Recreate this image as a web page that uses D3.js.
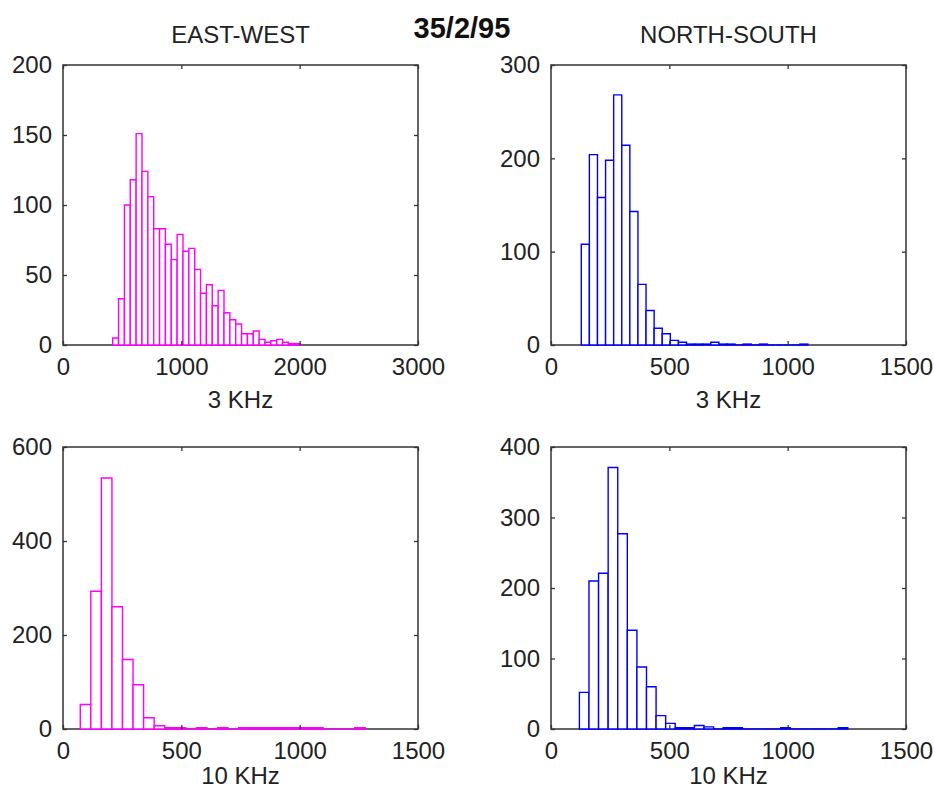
<!DOCTYPE html>
<html>
<head>
<meta charset="utf-8">
<script src="https://cdn.jsdelivr.net/npm/d3@7"></script>
<style>
  body { margin: 0; background: #fff; }
  svg { display: block; }
  text { font-family: "Liberation Sans", Arial, Helvetica, sans-serif; fill: #222; }
</style>
</head>
<body>
<svg id="chart" width="934" height="798"></svg>
<script>
// ---- data -------------------------------------------------------------
const chartTitle = "35/2/95";
const columnTitles = ["EAST-WEST", "NORTH-SOUTH"];
const axisLabels = ["3 KHz", "3 KHz", "10 KHz", "10 KHz"];

// Histogram bins: [first bin edge, bin width]
const ew3kBins = [420, 49.5];
const ns3kBins = [128, 34.2];
const ew10kBins = [73, 44.6];
const ns10kBins = [120, 40.5];

// Counts per bin
const ew3kCounts = [5, 33, 100, 118, 151, 124, 106, 83, 83, 72, 61, 79, 67, 69, 54, 37,
                    43, 28, 39, 23, 18, 15, 8, 8, 10, 4, 2, 3, 4, 2, 1, 1];
const ns3kCounts = [108, 204, 158, 198, 268, 214, 143, 65, 37, 18, 12, 5, 3, 1, 1, 1,
                    3, 1, 1, 0, 1, 0, 1, 0, 0, 0, 0, 1];
const ew10kCounts = [52, 293, 534, 260, 148, 94, 24, 7, 3, 3, 0, 3, 0, 3, 0, 3,
                     3, 3, 3, 3, 3, 3, 3, 0, 0, 0, 3];
const ns10kCounts = [52, 210, 221, 371, 277, 140, 88, 60, 19, 8, 2, 2, 5, 3, 0, 2,
                     2, 0, 0, 0, 0, 2, 0, 0, 0, 0, 0, 2];

// Axis ticks
const xTicks3000 = [0, 1000, 2000, 3000];
const xTicks1500 = [0, 500, 1000, 1500];
const yTicksEw3k = [0, 50, 100, 150, 200];
const yTicksNs3k = [0, 100, 200, 300];
const yTicksEw10k = [0, 200, 400, 600];
const yTicksNs10k = [0, 100, 200, 300, 400];

// ---- layout -----------------------------------------------------------
const MAGENTA = "#ff00ff", BLUE = "#0000ff";
const panels = [
  { bins: ew3kBins,  counts: ew3kCounts,  xTicks: xTicks3000, yTicks: yTicksEw3k,  color: MAGENTA, label: axisLabels[0],
    box: { left: 63,  top: 65,  right: 418, bottom: 345 }, labelOffset: 63 },
  { bins: ns3kBins,  counts: ns3kCounts,  xTicks: xTicks1500, yTicks: yTicksNs3k,  color: BLUE,    label: axisLabels[1],
    box: { left: 551, top: 65,  right: 906, bottom: 345 }, labelOffset: 63 },
  { bins: ew10kBins, counts: ew10kCounts, xTicks: xTicks1500, yTicks: yTicksEw10k, color: MAGENTA, label: axisLabels[2],
    box: { left: 63,  top: 447, right: 418, bottom: 729 }, labelOffset: 55 },
  { bins: ns10kBins, counts: ns10kCounts, xTicks: xTicks1500, yTicks: yTicksNs10k, color: BLUE,    label: axisLabels[3],
    box: { left: 551, top: 447, right: 906, bottom: 729 }, labelOffset: 55 }
];

const svg = d3.select("#chart");
const FRAME = "#333";

// Headings
svg.append("text")
  .attr("x", 462).attr("y", 38)
  .attr("text-anchor", "middle")
  .style("font-size", "29px").style("font-weight", "bold").style("fill", "#111")
  .text(chartTitle);

[panels[0], panels[1]].forEach((p, i) => {
  svg.append("text")
    .attr("x", (p.box.left + p.box.right) / 2).attr("y", 43)
    .attr("text-anchor", "middle")
    .style("font-size", "24px")
    .text(columnTitles[i]);
});

panels.forEach(p => {
  const b = p.box;
  const x = d3.scaleLinear()
    .domain([p.xTicks[0], p.xTicks[p.xTicks.length - 1]])
    .range([b.left, b.right]);
  const y = d3.scaleLinear()
    .domain([p.yTicks[0], p.yTicks[p.yTicks.length - 1]])
    .range([b.bottom, b.top]);

  const g = svg.append("g");

  // Axes box
  g.append("rect")
    .attr("x", b.left).attr("y", b.top)
    .attr("width", b.right - b.left).attr("height", b.bottom - b.top)
    .attr("fill", "none").attr("stroke", FRAME).attr("stroke-width", 1.5);

  // Histogram bars (outlined, white interior; empty bins collapse to a line)
  const [start, width] = p.bins;
  g.append("g").selectAll("path")
    .data(p.counts)
    .join("path")
    .attr("d", (c, i) => {
      const x0 = x(start + i * width), x1 = x(start + (i + 1) * width);
      const y0 = y(0), y1 = y(c);
      return `M${x0},${y0}V${y1}H${x1}V${y0}Z`;
    })
    .attr("fill", "#fff")
    .attr("stroke", p.color)
    .attr("stroke-width", 1.4);

  // Inward tick marks on all four sides, labels on left and bottom
  const styleAxis = sel => {
    sel.select(".domain").remove();
    sel.selectAll(".tick line").attr("stroke", FRAME).attr("stroke-width", 1.3);
    sel.selectAll(".tick text").style("font-size", "24px").attr("fill", "#222");
  };

  g.append("g").attr("transform", `translate(0,${b.bottom})`)
    .call(d3.axisBottom(x).tickValues(p.xTicks).tickSizeInner(-4).tickSizeOuter(0).tickPadding(13).tickFormat(d3.format("d")))
    .call(styleAxis);
  g.append("g").attr("transform", `translate(0,${b.top})`)
    .call(d3.axisTop(x).tickValues(p.xTicks).tickSizeInner(-4).tickSizeOuter(0).tickFormat(""))
    .call(styleAxis);
  g.append("g").attr("transform", `translate(${b.left},0)`)
    .call(d3.axisLeft(y).tickValues(p.yTicks).tickSizeInner(-4).tickSizeOuter(0).tickPadding(11).tickFormat(d3.format("d")))
    .call(styleAxis);
  g.append("g").attr("transform", `translate(${b.right},0)`)
    .call(d3.axisRight(y).tickValues(p.yTicks).tickSizeInner(-4).tickSizeOuter(0).tickFormat(""))
    .call(styleAxis);

  g.selectAll("g.tick text").attr("font-family", null);
  g.selectAll("g").attr("font-family", null).attr("font-size", null);

  // X-axis label
  g.append("text")
    .attr("x", (b.left + b.right) / 2).attr("y", b.bottom + p.labelOffset)
    .attr("text-anchor", "middle")
    .style("font-size", "24px")
    .text(p.label);
});
</script>
</body>
</html>
